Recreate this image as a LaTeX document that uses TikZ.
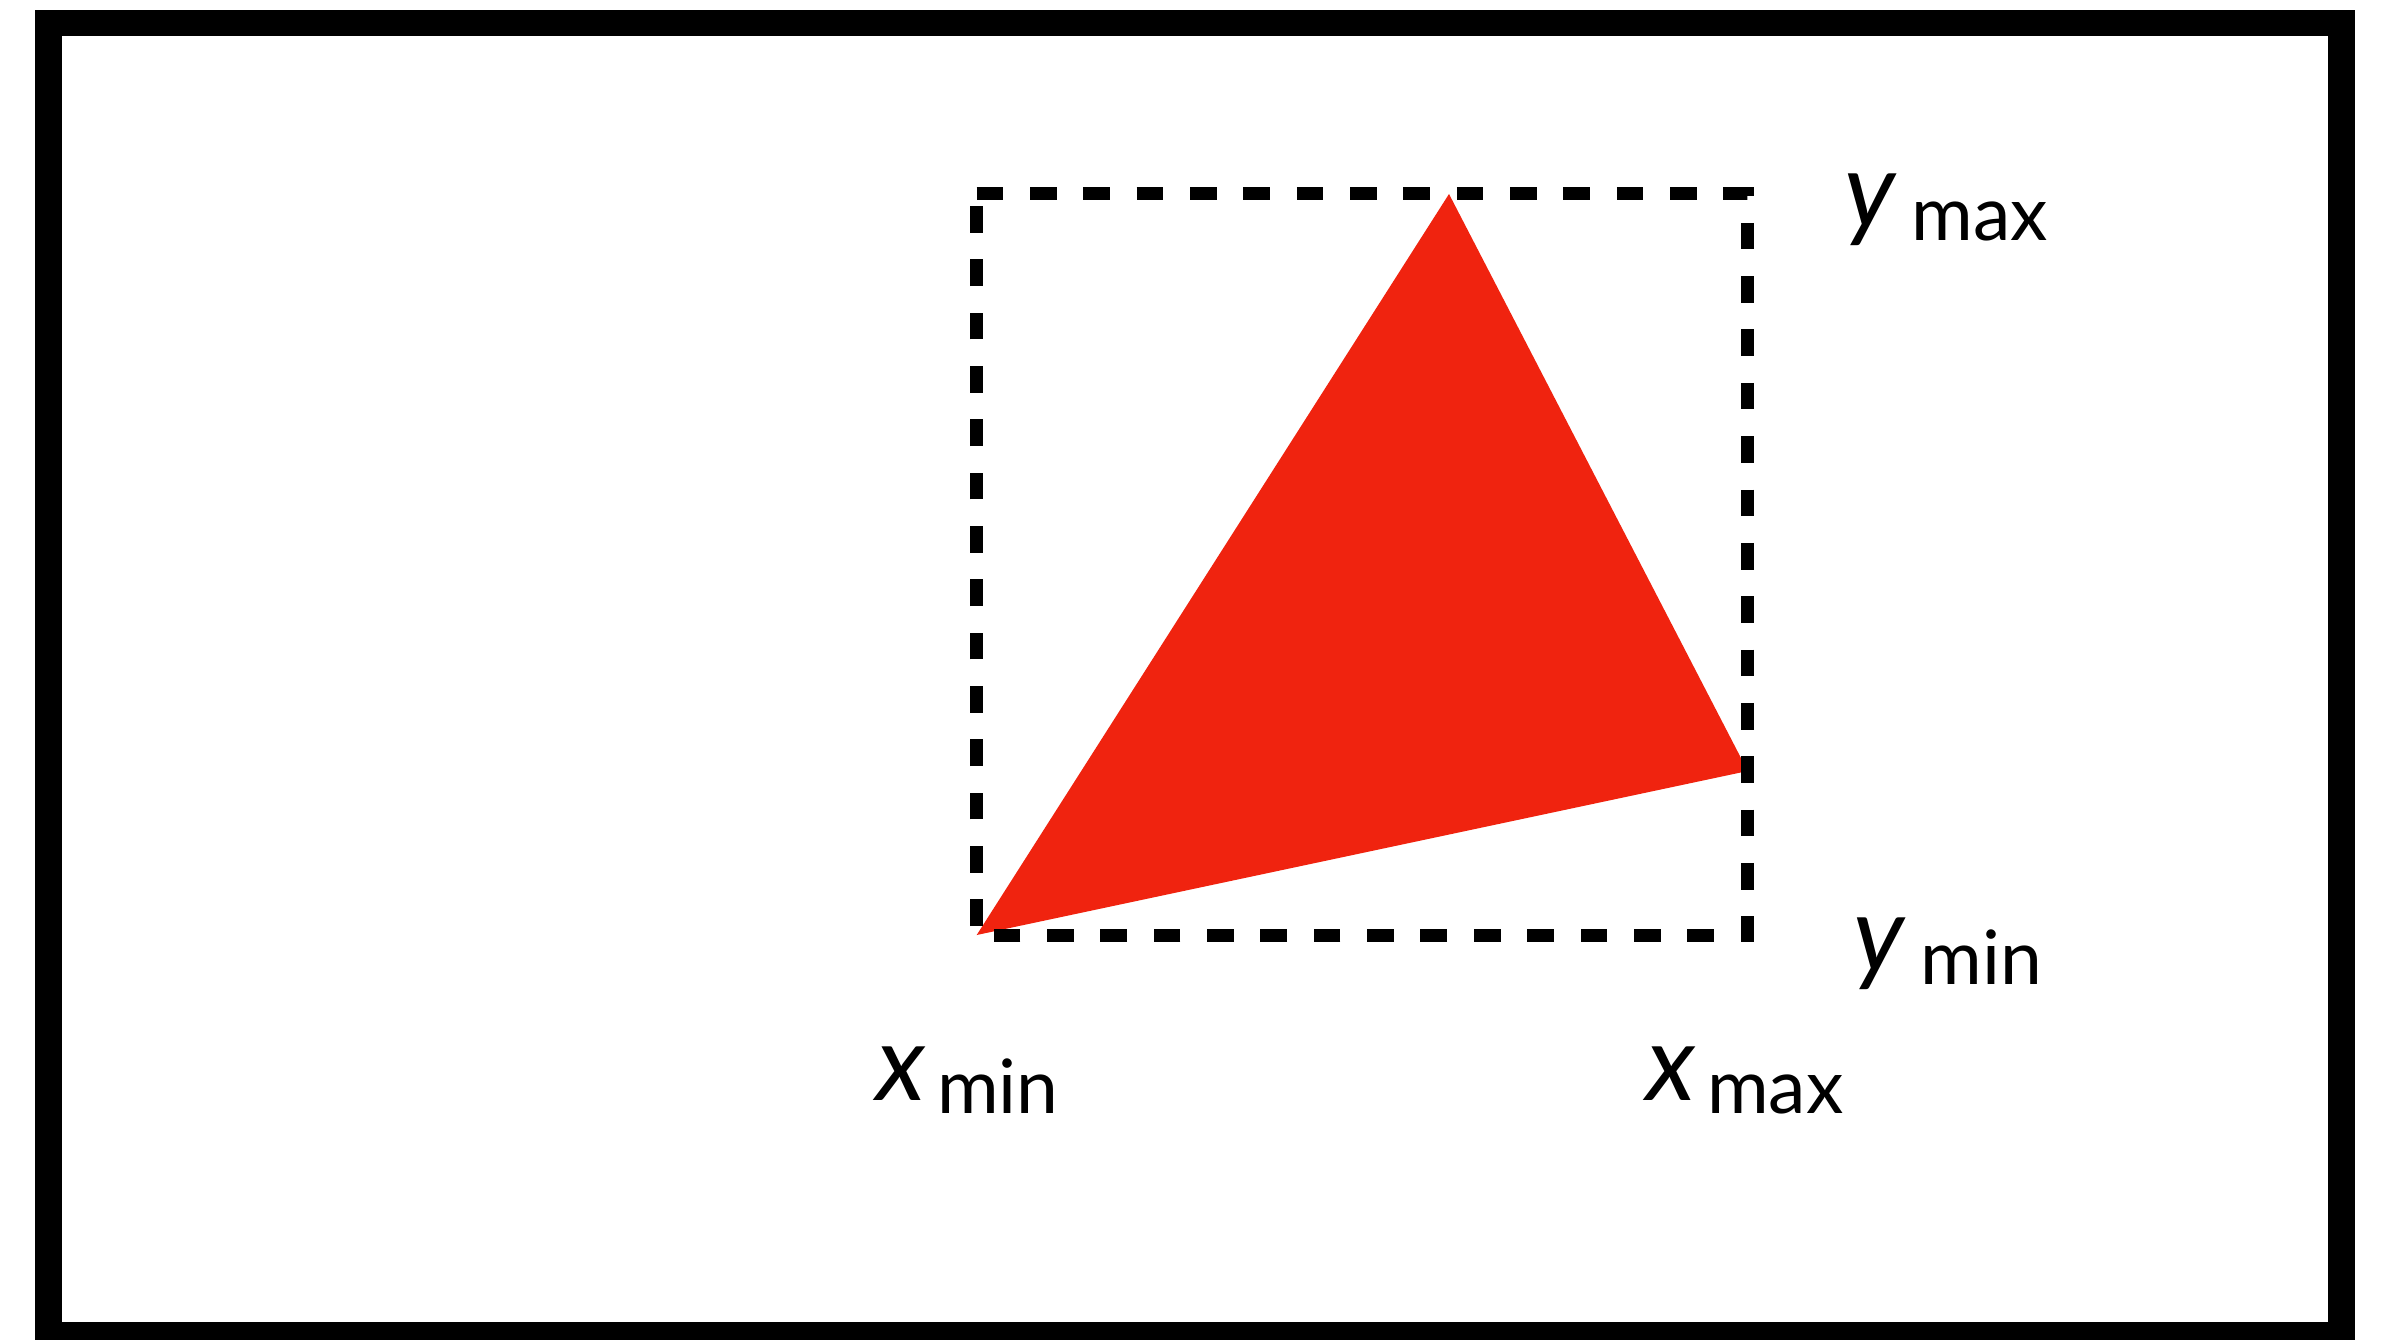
\documentclass[tikz,border=0pt]{standalone}
\usepackage{fontspec}
\setmainfont{Lato}
\definecolor{trired}{RGB}{240,35,15}
\newcommand{\mainsz}{\fontsize{106}{110}\selectfont}
\newcommand{\subsz}{\fontsize{75}{78}\selectfont}
\newcommand{\lbl}[3]{{\mainsz\itshape #1}\hspace{#3}\raisebox{-13pt}{\subsz #2}}
\tikzset{
  frame/.style={draw=black, line width=26.5pt},
  bbox/.style={draw=black, line width=13.3pt, dash pattern=on 26.67pt off 26.67pt, miter limit=10},
  tri/.style={fill=trired, draw=none},
  lab/.style={anchor=base west, inner sep=0pt, outer sep=0pt}
}
\begin{document}
\begin{tikzpicture}[x=1pt, y=-1pt]
\useasboundingbox (0,0) rectangle (2381,1340);
\fill[white] (0,0) rectangle (2381,1340);
\draw[frame] (48.5,23) rectangle (2341.5,1335.3);
\coordinate (tl) at (976.7,193.7);
\coordinate (tr) at (1747.7,193.7);
\coordinate (br) at (1747.7,935.7);
\coordinate (bl) at (976.7,935.7);
\coordinate (apex) at (1449,194);
\coordinate (left) at (976.7,935);
\coordinate (right) at (1747.7,771);
\fill[tri] (apex) -- (right) -- (left) -- cycle;
\draw[bbox] (tl) -- (tr) -- (br) -- (bl) -- cycle;
\node[lab] (xmin) at (876,1100) {\lbl{x}{min}{12pt}};
\node[lab] (xmax) at (1646,1100) {\lbl{x}{max}{12pt}};
\node[lab] (ymax) at (1844,228) {\lbl{y}{max}{16.5pt}};
\node[lab] (ymin) at (1853,971) {\lbl{y}{min}{16.5pt}};
\end{tikzpicture}
\end{document}
